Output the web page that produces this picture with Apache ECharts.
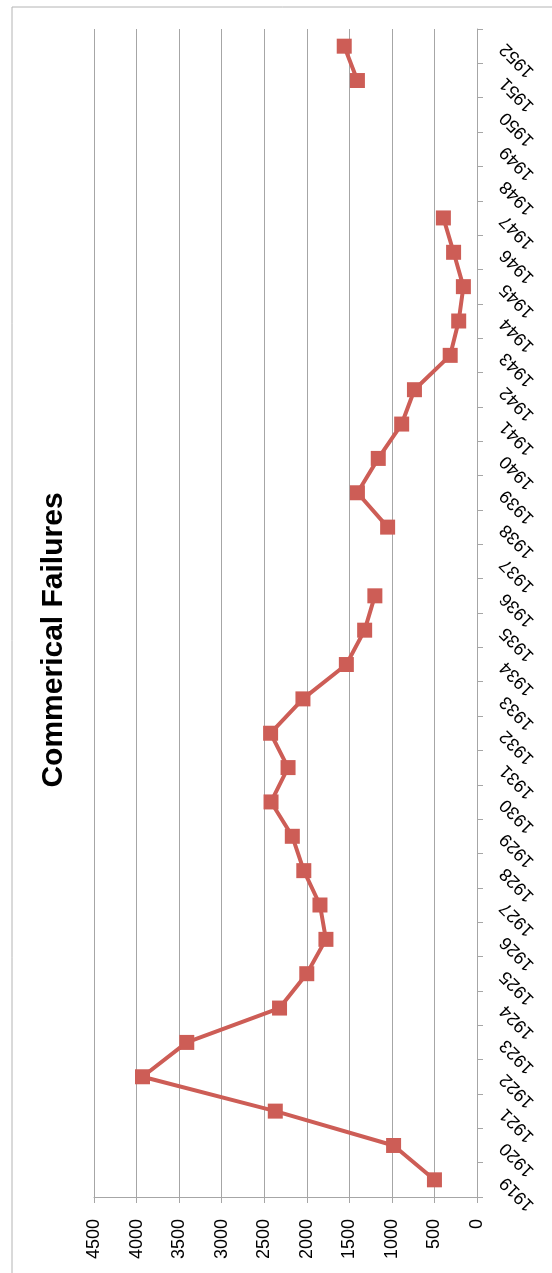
<!DOCTYPE html>
<html>
<head>
<meta charset="utf-8">
<script src="https://cdn.jsdelivr.net/npm/echarts@6/dist/echarts.min.js"></script>
<style>
    html, body { margin: 0; padding: 0; background: #fff; }
    #chart { width: 552px; height: 1273px; }
</style>
</head>
<body>
<div id="chart"></div>
<script>
// chart is drawn turned a quarter turn: years run up the right side, values run right-to-left
const years = ['1919', '1920', '1921', '1922', '1923', '1924', '1925', '1926', '1927', '1928',
    '1929', '1930', '1931', '1932', '1933', '1934', '1935', '1936', '1937', '1938',
    '1939', '1940', '1941', '1942', '1943', '1944', '1945', '1946', '1947', '1948',
    '1949', '1950', '1951', '1952'];
const failures = [500, 980, 2370, 3930, 3410, 2320, 2000, 1775, 1845, 2035,
    2170, 2420, 2220, 2425, 2045, 1535, 1320, 1200, null, 1050,
    1405, 1160, 885, 735, 315, 215, 160, 275, 395, null,
    null, null, 1405, 1560];
const valueTicks = { min: 0, max: 4500, step: 500 };

const red = '#cd5d56';
const gray = '#a6a6a6';
const font = 'Liberation Sans, Arial, sans-serif';

let myChart = echarts.init(document.getElementById('chart'));
myChart.setOption({
    animation: false,
    grid: { left: 94, right: 75, top: 29, bottom: 76 },
    graphic: [
        {
            type: 'rect',
            shape: { x: 12, y: 7, width: 600, height: 1320 },
            style: { fill: 'none', stroke: '#b4b4b4', lineWidth: 1 }
        },
        {
            type: 'text',
            x: 54,
            y: 640,
            rotation: Math.PI / 2,
            style: {
                text: 'Commerical Failures',
                font: 'bold 30px ' + font,
                fill: '#000',
                align: 'center',
                verticalAlign: 'middle'
            }
        }
    ],
    xAxis: {
        type: 'value',
        inverse: true,
        position: 'bottom',
        min: valueTicks.min,
        max: valueTicks.max,
        interval: valueTicks.step,
        axisLine: { show: true, lineStyle: { color: gray } },
        axisTick: { show: true, length: 6, lineStyle: { color: gray } },
        splitLine: { show: true, lineStyle: { color: gray } },
        axisLabel: {
            rotate: 90,
            margin: 22,
            fontSize: 18,
            fontFamily: font,
            color: '#000',
            formatter: (v) => String(v)
        }
    },
    yAxis: {
        type: 'category',
        position: 'right',
        data: years,
        boundaryGap: true,
        axisLine: { show: true, lineStyle: { color: gray } },
        axisTick: { show: true, length: 6, interval: 0, lineStyle: { color: gray } },
        splitLine: { show: false },
        axisLabel: {
            interval: 0,
            rotate: 135,
            align: 'right',
            verticalAlign: 'middle',
            margin: 26,
            fontSize: 18,
            fontFamily: font,
            color: '#000'
        }
    },
    series: [
        {
            type: 'line',
            data: failures,
            connectNulls: false,
            symbol: 'rect',
            symbolSize: 15,
            lineStyle: { color: red, width: 4 },
            itemStyle: { color: red },
            z: 3
        }
    ]
});
</script>
</body>
</html>
